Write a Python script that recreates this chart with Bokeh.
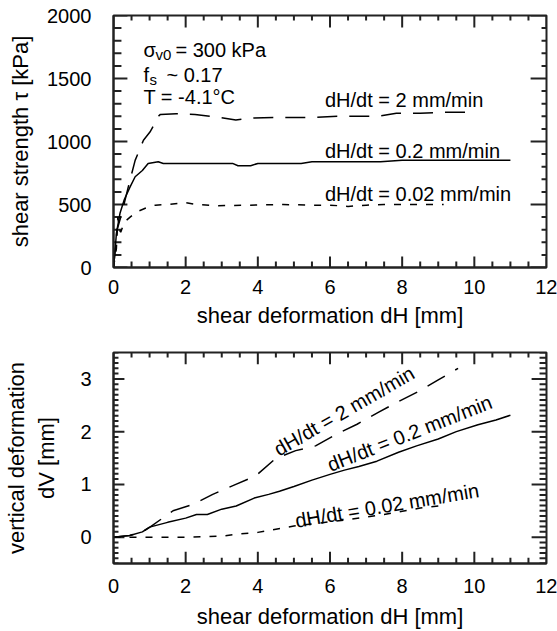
import math
import numpy as np
from bokeh.plotting import figure
from bokeh.models import (Range1d, LinearAxis, SingleIntervalTicker, FixedTicker,
                          Label, CustomJSTickFormatter, Arrow, ColumnDataSource)
from bokeh.layouts import column
from bokeh.embed import file_html
from bokeh.resources import INLINE

FONT = "Liberation Sans"

# ---------------- data: top panel (shear strength vs dH) ----------------
top_x_slow = [0, 0.08, 0.12, 0.16, 0.2, 0.3, 0.46, 0.63, 0.88, 1.16, 1.5, 2.0, 2.3, 2.9,
              4.7, 5.5, 6.0, 6.5, 7.0, 7.5, 9.15]
top_y_slow = [0, 150, 400, 300, 280, 360, 400, 440, 470, 495, 500, 515, 500, 490,
              500, 495, 495, 485, 495, 500, 500]
top_x_mid = [0, 0.04, 0.08, 0.18, 0.3, 0.46, 0.6, 0.8, 0.96, 1.24, 1.38, 2.0, 3.3, 3.45,
             3.8, 4.0, 5.2, 5.5, 7.4, 8.0, 11.0]
top_y_mid = [0, 120, 270, 430, 540, 640, 720, 770, 826, 839, 826, 826, 826, 808,
             808, 826, 826, 839, 839, 852, 852]
top_x_fast = [0, 0.05, 0.1, 0.23, 0.41, 0.6, 0.83, 1.01, 1.15, 1.24, 1.3, 1.74, 2.26,
              2.84, 3.39, 3.76, 4.5, 5.4, 6.24, 6.8, 7.34, 7.84, 8.5, 9.1, 9.6, 10.05]
top_y_fast = [0, 150, 300, 430, 640, 850, 1010, 1075, 1145, 1200, 1215, 1220, 1215,
              1195, 1170, 1185, 1190, 1190, 1200, 1200, 1200, 1225, 1225, 1232, 1232, 1232]

# ---------------- data: bottom panel (vertical deformation vs dH) ----------------
bot_x_slow = [0, 1.0, 2.0, 3.0, 3.5, 4.0, 4.5, 5.0, 5.5, 6.0, 6.5, 7.0, 7.5, 8.0, 8.5, 9.1]
bot_y_slow = [0, 0, 0, 0.02, 0.06, 0.09, 0.15, 0.21, 0.25, 0.29, 0.33, 0.38, 0.43, 0.49,
              0.55, 0.6]
bot_x_mid = [0, 0.45, 0.8, 1.0, 1.5, 2.0, 2.3, 2.6, 3.0, 3.4, 3.9, 4.3, 4.6, 5.0, 5.5,
             6.0, 6.4, 6.8, 7.3, 7.9, 8.4, 9.0, 9.5, 10.1, 10.6, 11.0]
bot_y_mid = [0, 0.03, 0.1, 0.19, 0.28, 0.36, 0.43, 0.43, 0.53, 0.59, 0.74, 0.81, 0.87,
             0.96, 1.08, 1.19, 1.27, 1.34, 1.44, 1.61, 1.73, 1.86, 2.0, 2.13, 2.22, 2.31]
bot_x_fast = [0, 0.45, 0.8, 1.01, 1.65, 2.2, 2.75, 3.39, 3.94, 4.49, 5.05, 5.6, 6.2,
              6.75, 7.35, 7.9, 8.45, 9.0, 9.55]
bot_y_fast = [0, 0.03, 0.1, 0.19, 0.5, 0.62, 0.81, 1.0, 1.16, 1.49, 1.64, 1.73, 1.96,
              2.14, 2.37, 2.57, 2.76, 2.98, 3.2]

rate_labels = ["dH/dt = 2 mm/min", "dH/dt = 0.2 mm/min", "dH/dt = 0.02 mm/min"]

# tick positions
x_major = [0, 2, 4, 6, 8, 10, 12]
x_minor = list(np.arange(0, 12.01, 0.5))
top_y_major = [0, 500, 1000, 1500, 2000]
top_y_minor = list(np.arange(0, 2000.1, 100))
bot_y_major = [0, 1, 2, 3]
bot_y_minor = list(np.round(np.arange(-0.5, 3.501, 0.1), 2))

TICK_FS = "20px"
AXIS_FS = "22px"
ANN_FS = "20px"
LINE_W = 1.5
AX_W = 2
AX_COL = "#222222"
FAST_DASH = "20 12"
SLOW_DASH = "7 9"

W = 557
BL, BR = 110, 11
FRAME_W = W - BL - BR


def blank_formatter():
    return CustomJSTickFormatter(code="return '';")


def style_axis(ax):
    ax.axis_line_color = AX_COL
    ax.axis_line_width = AX_W
    ax.major_tick_line_color = None
    ax.minor_tick_line_color = None
    ax.major_tick_in = 0
    ax.major_tick_out = 0
    ax.minor_tick_in = 0
    ax.minor_tick_out = 0
    ax.major_label_text_font = FONT
    ax.major_label_text_font_size = TICK_FS
    ax.major_label_text_color = "black"
    ax.axis_label_text_font = FONT
    ax.axis_label_text_font_size = AXIS_FS
    ax.axis_label_text_font_style = "normal"
    ax.axis_label_text_color = "black"


def make_fig(height, y0, y1, yint, top_border, bottom_border):
    p = figure(width=W, height=height, x_range=Range1d(0, 12), y_range=Range1d(y0, y1),
               toolbar_location=None, output_backend="svg",
               min_border_left=BL, min_border_right=BR,
               min_border_top=top_border, min_border_bottom=bottom_border)
    p.grid.visible = False
    p.outline_line_color = AX_COL
    p.outline_line_width = AX_W
    xb = p.xaxis[0]
    xb.ticker = FixedTicker(ticks=x_major)
    style_axis(xb)
    xb.axis_label = "shear deformation dH [mm]"
    yl = p.yaxis[0]
    yl.ticker = SingleIntervalTicker(interval=yint)
    style_axis(yl)
    return p


def add_ticks(p, y0, y1, frame_h, ymaj, ymin, spec):
    """spec: pixel lengths (b_in, b_out, b_min, l_in, l_out, l_min, t_in, t_min, r_in, r_min)"""
    b_in, b_out, b_min, l_in, l_out, l_min, t_in, t_min, r_in, r_min = spec
    xs = 12 / FRAME_W          # data units per pixel (x)
    ys = (y1 - y0) / frame_h   # data units per pixel (y)
    seg_x0, seg_y0, seg_x1, seg_y1 = [], [], [], []

    def add(a, b, c, d):
        seg_x0.append(a); seg_y0.append(b); seg_x1.append(c); seg_y1.append(d)

    for t in x_major:
        add(t, y0, t, y0 + b_in * ys)
        add(t, y1, t, y1 - t_in * ys)
    for t in x_minor:
        if t not in x_major:
            add(t, y0, t, y0 + b_min * ys)
            add(t, y1, t, y1 - t_min * ys)
    for t in ymaj:
        add(0, t, l_in * xs, t)
        add(12, t, 12 - r_in * xs, t)
    for t in ymin:
        if t not in ymaj:
            add(0, t, l_min * xs, t)
            add(12, t, 12 - r_min * xs, t)
    p.segment(seg_x0, seg_y0, seg_x1, seg_y1, line_color=AX_COL, line_width=AX_W)

    ox0, oy0, ox1, oy1 = [], [], [], []
    for t in x_major:
        ox0.append(t); oy0.append(y0); ox1.append(t); oy1.append(y0 - b_out * ys)
    for t in ymaj:
        ox0.append(0); oy0.append(t); ox1.append(-l_out * xs); oy1.append(t)
    src = ColumnDataSource(dict(x0=ox0, y0=oy0, x1=ox1, y1=oy1))
    p.add_layout(Arrow(end=None, start=None, x_start="x0", y_start="y0", x_end="x1",
                       y_end="y1", source=src, line_color=AX_COL, line_width=AX_W))


def lab(p, x, y, text, size=ANN_FS, xo=0, yo=0, angle=0.0):
    p.add_layout(Label(x=x, y=y, text=text, x_offset=xo, y_offset=yo, angle=angle,
                       text_font=FONT, text_font_size=size, text_color="black",
                       text_align="left", text_baseline="alphabetic"))


# ---------------- top panel ----------------
H1, T1, B1 = 330, 15, 62
p1 = make_fig(H1, 0, 2000, 500, T1, B1)
p1.yaxis[0].axis_label = "shear strength τ [kPa]"
p1.yaxis[0].major_label_standoff = 22
p1.yaxis[0].axis_label_standoff = 11
p1.xaxis[0].major_label_standoff = 12
p1.xaxis[0].axis_label_standoff = 6
add_ticks(p1, 0, 2000, H1 - T1 - B1, top_y_major, top_y_minor,
          (11, 11, 6, 14, 14, 8, 12, 5, 16, 5))

p1.line(top_x_fast, top_y_fast, line_color="black", line_width=LINE_W, line_dash=FAST_DASH)
p1.line(top_x_mid, top_y_mid, line_color="black", line_width=LINE_W)
p1.line(top_x_slow, top_y_slow, line_color="black", line_width=LINE_W, line_dash=SLOW_DASH)

# test conditions
lab(p1, 0.83, 1723, "σ")
lab(p1, 0.83, 1723, "v0", size="15px", xo=12, yo=-4)
lab(p1, 0.83, 1723, "= 300 kPa", xo=32)
lab(p1, 0.83, 1525, "f")
lab(p1, 0.83, 1525, "s", size="15px", xo=6, yo=-4)
lab(p1, 0.83, 1525, "~ 0.17", xo=23)
lab(p1, 0.83, 1355, "T = -4.1°C")

lab(p1, 5.86, 1327, rate_labels[0])
lab(p1, 5.86, 924, rate_labels[1])
lab(p1, 5.86, 583, rate_labels[2])

# ---------------- bottom panel ----------------
H2, T2, B2 = 301, 22, 63
p2 = make_fig(H2, -0.5, 3.5, 1, T2, B2)
p2.yaxis[0].axis_label = "dV [mm]"
p2.yaxis[0].major_label_standoff = 22
p2.yaxis[0].axis_label_standoff = 18
p2.xaxis[0].major_label_standoff = 15
p2.xaxis[0].axis_label_standoff = 8
add_ticks(p2, -0.5, 3.5, H2 - T2 - B2, bot_y_major, bot_y_minor,
          (12, 10, 6, 11, 12, 5, 12, 5, 15, 7))

extra = LinearAxis(ticker=FixedTicker(ticks=[]), formatter=blank_formatter(),
                   axis_label="vertical deformation")
style_axis(extra)
extra.axis_line_color = None
extra.major_label_standoff = 0
extra.major_label_text_font_size = "1px"
extra.axis_label_standoff = 3
p2.add_layout(extra, "left")

p2.line(bot_x_fast, bot_y_fast, line_color="black", line_width=LINE_W, line_dash=FAST_DASH)
p2.line(bot_x_mid, bot_y_mid, line_color="black", line_width=LINE_W)
p2.line(bot_x_slow, bot_y_slow, line_color="black", line_width=LINE_W, line_dash=SLOW_DASH)

lab(p2, 4.49, 1.64, rate_labels[0], angle=math.radians(30))
lab(p2, 5.95, 1.36, rate_labels[1], angle=math.radians(21.5))
lab(p2, 5.04, 0.31, rate_labels[2], angle=math.radians(9.5))

layout = column(p1, p2, spacing=0)
open("out.html", "w").write(file_html(layout, INLINE))
